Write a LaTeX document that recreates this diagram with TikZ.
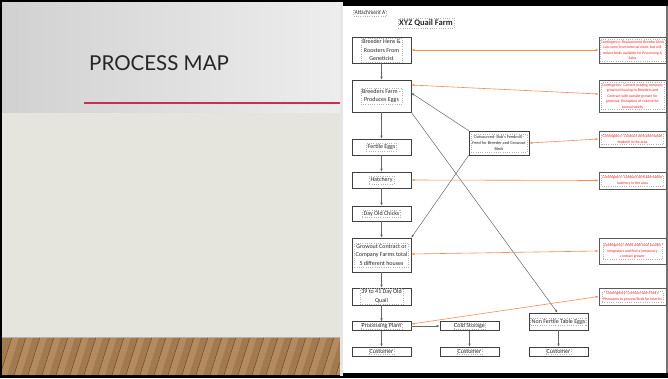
\documentclass[tikz,border=0pt]{standalone}
\usepackage{fontspec}
\setmainfont{Carlito}
\newfontfamily\titlefont{Lato}
\usetikzlibrary{arrows.meta}
\definecolor{orangeln}{HTML}{F28C55}
\definecolor{redtxt}{HTML}{FF1A1A}
\definecolor{wood}{HTML}{A27A50}
\definecolor{wooddark}{HTML}{5E4026}
\definecolor{woodlight}{HTML}{C49A6A}
\begin{document}
\begin{tikzpicture}[x=1pt,y=-1pt,
  procbox/.style={draw=black!75, line width=0.6pt, fill=white, minimum width=59pt, inner sep=0pt},
  ptxt/.style={draw=black!30, dotted, line width=0.25pt, align=center, inner sep=1.2pt, font=\fontsize{6}{8.7}\selectfont, text=black!85},
  contbox/.style={draw=black!65, line width=0.7pt, fill=white, minimum width=67pt, inner sep=0pt},
  ctxt/.style={draw=black!30, dotted, line width=0.25pt, align=center, inner sep=1.1pt, font=\fontsize{3.8}{5.5}\selectfont, text=redtxt},
  flow/.style={draw=black!60, line width=0.5pt, -{Latex[length=3pt,width=2.4pt]}},
  cont/.style={draw=orangeln, line width=0.6pt, {Latex[length=3pt,width=2.4pt]}-{Latex[length=3pt,width=2.4pt]}},
]
\useasboundingbox (0,0) rectangle (668,378);
% background
\fill[black] (0,0) rectangle (668,378);
% slide
\shade[left color=black!18!white, right color=black!7!white] (2,2) rectangle (340,113);
\fill[black!12!white!97!yellow] (2,113) rectangle (340,337);
\fill[wood] (2,337) rectangle (340,375);
\begin{scope}
\clip (2,337) rectangle (340,375);
\foreach \i in {0,14,...,360} {
  \fill[woodlight, opacity=0.55] (\i,375) -- (\i+7,375) -- (\i+19,337) -- (\i+12,337) -- cycle;
  \draw[wooddark, line width=0.4pt] (\i,375) -- (\i+12,337);
}
\draw[black!30, line width=0.8pt] (2,337.5) -- (340,337.5);
\end{scope}
\node[anchor=base west, inner sep=0pt, font=\titlefont\fontsize{20.5}{20.5}\selectfont, text=black!85] (title) at (89,70) {PROCESS MAP};
\coordinate (rl1) at (84,103);
\coordinate (rl2) at (340,103);
\draw[draw={rgb,255:red,196;green,50;blue,80}, line width=1.2pt] (rl1) -- (rl2);
% gap & page
\fill[black!10] (340,2) rectangle (343,376);
\fill[white] (343,6) rectangle (666,373);
\fill[black!55] (666,6) rectangle (668,373);

% headings
\node[ptxt, font=\fontsize{5.5}{6}\selectfont] (att) at (370,13) {Attachment A};
\node[ptxt, font=\fontsize{8.5}{9}\selectfont\bfseries] (xyz) at (426,23) {XYZ Quail Farm};

% process boxes
\node[procbox, minimum height=26pt] (bh) at (381.5,50) {};
\node[ptxt] at (bh) {Breeder Hens \&\\Roosters From\\Geneticist};
\node[procbox, minimum height=32pt] (bf) at (381.5,96) {};
\node[ptxt] at (bf) {Breeders Farm -\\Produces Eggs};
\node[procbox, minimum height=16pt] (fe) at (381.5,147) {};
\node[ptxt] at (fe) {Fertile Eggs};
\node[procbox, minimum height=16pt] (hat) at (381.5,180) {};
\node[ptxt] at (hat) {Hatchery};
\node[procbox, minimum height=15pt] (doc) at (381.5,213.5) {};
\node[ptxt] at (doc) {Day Old Chicks};
\node[procbox, minimum height=34pt] (gro) at (381.5,255) {};
\node[ptxt] at (gro) {Growout Contract or\\Company Farms total\\5 different houses};
\node[procbox, minimum height=17pt] (q39) at (381.5,296.5) {};
\node[ptxt] at (q39) {39 to 41 Day Old\\Quail};
\node[procbox, minimum height=8.5pt] (pp) at (381.5,326) {};
\node[ptxt, inner sep=0.5pt] at (pp) {Processing Plant};
\node[procbox, minimum height=8.5pt] (cs) at (469.5,326) {};
\node[ptxt, inner sep=0.5pt] at (cs) {Cold Storage};
\node[procbox, minimum height=17pt] (nf) at (558.5,321.5) {};
\node[ptxt] at (nf) {Non Fertile Table Eggs};
\node[procbox, minimum height=9pt] (cu1) at (381.5,351.5) {};
\node[ptxt, inner sep=0.5pt] at (cu1) {Customer};
\node[procbox, minimum height=9pt] (cu2) at (469.5,351.5) {};
\node[ptxt, inner sep=0.5pt] at (cu2) {Customer};
\node[procbox, minimum height=9pt] (cu3) at (558.5,351.5) {};
\node[ptxt, inner sep=0.5pt] at (cu3) {Customer};
\node[procbox, minimum width=60pt, minimum height=24pt] (out) at (499,143) {};
\node[ptxt, font=\fontsize{4.3}{6}\selectfont] at (out) {Outsourced- Bob's Feedmill -\\Feed for Breeder and Growout\\Birds};

% contingency boxes
\node[contbox, minimum height=26pt] (c1) at (632.5,50) {};
\node[ctxt] at (c1) {Contingency: Replacement Breeder birds\\can come from internal stock, but will\\reduce birds available for Processing \&\\Sales};
\node[contbox, minimum height=32pt] (c2) at (632.5,96) {};
\node[ctxt] at (c2) {Contingency: Convert existing company\\growout housing to Breeders and\\Contract with outside grower for\\growout. Disruption of volume for\\several weeks};
\node[contbox, minimum height=16pt] (c3) at (632.5,139) {};
\node[ctxt] at (c3) {Contingency: Contract with alternative\\feedmill in the area};
\node[contbox, minimum height=17pt] (c4) at (632.5,180.5) {};
\node[ctxt] at (c4) {Contingency: Contract with alternative\\hatchery in the area};
\node[contbox, minimum height=26pt] (c5) at (632.5,251) {};
\node[ctxt] at (c5) {Contingency: Work with local poultry\\integrators and find a temporary\\contract grower};
\node[contbox, minimum height=17pt] (c6) at (632.5,296.5) {};
\node[ctxt] at (c6) {Contingency: Contract with Fred's\\Pheasants to process Birds for Interim};

% main flow
\draw[flow] (bh) -- (bf);
\draw[flow] (bf) -- (fe);
\draw[flow] (fe) -- (hat);
\draw[flow] (hat) -- (doc);
\draw[flow] (doc) -- (gro);
\draw[flow] (gro) -- (q39);
\draw[flow] (q39) -- (pp);
\draw[flow] (pp) -- (cs);
\draw[flow] (pp) -- (cu1);
\draw[flow] (cs) -- (cu2);
\draw[flow] (nf) -- (cu3);
\draw[flow] (out.north west) -- ([yshift=3pt]bf.east);
\draw[flow] (out.south west) -- (gro.north east);
\draw[flow] (bf.south east) -- ([xshift=-1pt]nf.north);

% contingency links
\draw[cont] (bh.east) -- (c1.west);
\draw[cont] ([yshift=11pt]bf.east) -- ([yshift=2pt]c2.west);
\draw[cont] (out.east) -- (c3.west);
\draw[cont] (hat.east) -- (c4.west);
\draw[cont] ([yshift=1pt]gro.east) -- (c5.west);
\draw[cont] ([yshift=2pt]pp.east) -- (c6.west);
\end{tikzpicture}
\end{document}
